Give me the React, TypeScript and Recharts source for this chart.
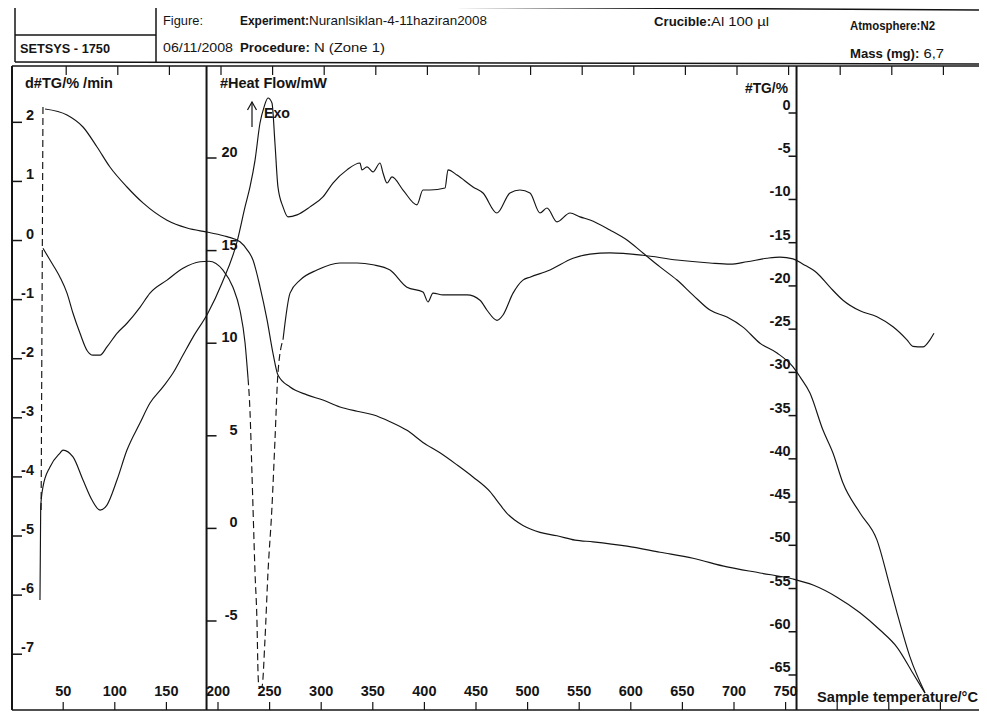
import React from 'react';
import { ComposedChart, Line, XAxis, YAxis, Scatter, ReferenceLine } from 'recharts';

// ---- values (sample temperature in °C) ----
const tgTemp = [32.4, 53.7, 69.2, 82.8, 95.3, 111.8, 127.3, 150.6, 170, 190.3, 208.7, 221.3, 228.1, 233.9, 240.7, 247.5, 253.3, 258.1, 269.8, 286.2, 301.7, 318.2, 334.7, 350.2, 366.7, 383.1, 398.6, 415.1, 431.6, 447.1, 463.6, 473.3, 480, 487.8, 495.5, 512, 528.5, 546, 563.4, 596.3, 628.3, 660.3, 693.2, 725.2, 757.2, 776.6, 799.8, 822.1, 841.5, 858, 873.4, 885.1];
const tgPercent = [0.46, -0.23, -1.62, -3.93, -6.25, -8.56, -10.4, -12.4, -13.3, -13.8, -14.3, -14.9, -15.8, -17.0, -20.1, -23.9, -27.8, -30.3, -31.7, -32.6, -33.2, -34.0, -34.5, -34.9, -35.7, -36.7, -38.1, -39.3, -40.7, -42.1, -43.8, -45.3, -46.3, -47.1, -47.7, -48.5, -48.9, -49.4, -49.6, -50.1, -50.8, -51.5, -52.5, -53.2, -53.9, -54.6, -56.0, -57.8, -59.8, -61.8, -64.8, -67.1];

const heatTemp = [27.5, 28.2, 30.4, 37.2, 46.9, 49.8, 59.5, 69.2, 77.9, 85.7, 92.4, 102.1, 111.8, 124.4, 134.1, 146.7, 156.4, 166.1, 175.8, 190.3, 203.9, 218.4, 226.2, 231, 235.9, 240.7, 244.6, 248.4, 252.3, 255.2, 258.1, 263, 267.8, 276.6, 289.1, 301.7, 311.4, 325, 337.6, 339.5, 344.4, 350.2, 357, 359.9, 363.8, 368.6, 379.3, 392.8, 398.6, 405.4, 420, 422.9, 431.6, 447.1, 456.8, 470.3, 482.9, 492.6, 502.3, 512, 518.8, 528.5, 541.1, 550.8, 560.5, 579.8, 596.3, 611.8, 628.3, 644.8, 660.3, 676.7, 693.2, 708.7, 725.2, 741.7, 757.2, 764, 773.6, 786.2, 795.9, 805.6, 822.1, 838.5, 851.2, 858, 870.5, 885.1];
const heatFlow = [-3.86, 1.16, 2.24, 3.32, 4.07, 4.23, 3.86, 2.61, 1.53, 0.99, 1.26, 2.61, 4.23, 5.69, 6.77, 7.64, 8.39, 9.36, 10.33, 11.63, 13.25, 15.47, 17.36, 18.44, 19.89, 21.89, 22.75, 23.24, 22.97, 20.8, 18.44, 17.36, 16.82, 16.93, 17.36, 17.9, 18.65, 19.36, 19.73, 19.36, 19.52, 19.25, 19.73, 19.19, 18.65, 18.98, 18.27, 17.47, 18.27, 18.27, 18.38, 19.36, 19.08, 18.44, 18.11, 17.03, 18.11, 18.27, 18.11, 17.03, 17.3, 16.55, 17.03, 16.82, 16.65, 16.11, 15.57, 14.87, 14.12, 13.41, 12.6, 11.79, 11.41, 10.87, 10.0, 9.47, 8.72, 8.18, 7.31, 5.31, 4.07, 2.45, 0.83, -0.62, -3.16, -4.56, -6.94, -8.88];

const dtgTemp = [30.4, 37.2, 46.9, 53.7, 59.5, 66.3, 73.1, 78.9, 85.7, 92.4, 102.1, 111.8, 124.4, 134.1, 150.6, 166.1, 182.6, 191.3, 204.8, 214.5, 221.3, 226.2, 229.1];
const dtgRate = [-0.13, -0.33, -0.62, -0.89, -1.23, -1.57, -1.86, -1.94, -1.94, -1.8, -1.57, -1.4, -1.13, -0.89, -0.67, -0.47, -0.36, -0.35, -0.5, -0.79, -1.18, -1.73, -2.33];
const dtgDipTemp = [229.1, 231, 232.9, 233.9, 235.9, 237.8, 238.8, 239.7, 242.6, 245.5, 248.4, 252.3, 255.2, 258.1, 263];
const dtgDipRate = [-2.33, -2.89, -3.93, -4.51, -5.63, -6.47, -7.32, -7.55, -7.55, -6.76, -5.63, -4.51, -3.38, -2.24, -1.68];
const dtgTailTemp = [263, 269.8, 279.5, 295.9, 318.2, 334.7, 350.2, 366.7, 383.1, 398.6, 403.5, 408.3, 418, 441.3, 453.9, 460.7, 470.3, 476.2, 485.9, 495.5, 502.3, 521.7, 544, 560.5, 579.8, 611.8, 644.8, 676.7, 696.1, 712.6, 732, 744.6, 757.2, 766.9, 780.4, 793, 805.6, 822.1, 838.5, 854.1, 867.6, 873.4, 883.1, 889.9, 893.8];
const dtgTailRate = [-1.68, -0.89, -0.67, -0.5, -0.38, -0.38, -0.41, -0.5, -0.79, -0.87, -1.04, -0.89, -0.92, -0.92, -1.01, -1.18, -1.35, -1.26, -0.89, -0.67, -0.62, -0.5, -0.3, -0.23, -0.21, -0.25, -0.33, -0.38, -0.4, -0.36, -0.3, -0.28, -0.31, -0.4, -0.55, -0.79, -1.01, -1.19, -1.29, -1.46, -1.68, -1.79, -1.8, -1.68, -1.57];
const dtgStartTemp = [30.4, 28.6];
const dtgStartRate = [2.26, -4.56];

const tempTicks = [50, 100, 150, 200, 250, 300, 350, 400, 450, 500, 550, 600, 650, 700, 750, 800, 850, 900];
const lastTempLabel = 750;
const dtgTicks = [2, 1, 0, -1, -2, -3, -4, -5, -6, -7];
const heatTicks = [20, 15, 10, 5, 0, -5];
const tgTicks = [0, -5, -10, -15, -20, -25, -30, -35, -40, -45, -50, -55, -60, -65];

// ---- layout ----
const T_DOMAIN = [0.39, 945.16];
const DTG_DOMAIN = [-7.944, 2.953];
const HF_DOMAIN = [-9.806, 24.968];
const TG_DOMAIN = [-69.05, 5.436];
const HF_AXIS_T = 188.9;
const TG_AXIS_T = 760.6;

const INK = '#141414';
const FONT = 'Arial, "Liberation Sans", sans-serif';
const tickStyle = { fontFamily: FONT, fontSize: 14.5, fontWeight: 700, fill: INK } as const;

const pairs = (xs: number[], ys: number[]) => xs.map((t, i) => ({ t, v: ys[i] }));

const tgData = pairs(tgTemp, tgPercent);
const heatData = pairs(heatTemp, heatFlow);
const dtgData = pairs(dtgTemp, dtgRate);
const dtgDipData = pairs(dtgDipTemp, dtgDipRate);
const dtgTailData = pairs(dtgTailTemp, dtgTailRate);
const dtgStartData = pairs(dtgStartTemp, dtgStartRate);
const heatTickData = heatTicks.map(v => ({ t: HF_AXIS_T, v }));
const tgTickData = tgTicks.map(v => ({ t: TG_AXIS_T, v }));

// plot frame edges (page pixels)
const PLOT_TOP = 66;
const PLOT_BOTTOM = 710;
const PLOT_LEFT = 12;

const BottomTick = (props: any) => {
    const { x, payload } = props;
    const y = PLOT_BOTTOM;
    return (
        <g>
            <line x1={x} x2={x} y1={y} y2={y - 8} stroke={INK} strokeWidth={1.2} />
            {payload.value <= lastTempLabel && (
                <text x={x} y={y - 14} textAnchor="middle" style={tickStyle}>{payload.value}</text>
            )}
        </g>
    );
};

const TopTick = (props: any) => {
    const { x } = props;
    const y = PLOT_TOP;
    return <line x1={x + 3} x2={x + 3} y1={y} y2={y + 9} stroke={INK} strokeWidth={1.2} />;
};

const DtgTick = (props: any) => {
    const { y, payload } = props;
    const x = PLOT_LEFT;
    return (
        <g>
            <line x1={x} x2={x + 10} y1={y} y2={y} stroke={INK} strokeWidth={1.5} />
            <text x={x + 22} y={y - 2} textAnchor="end" style={tickStyle}>{payload.value}</text>
        </g>
    );
};

const HeatTick = (props: any) => {
    const { cx, cy, payload } = props;
    return (
        <g>
            <line x1={cx} x2={cx + 10} y1={cy} y2={cy} stroke={INK} strokeWidth={1.5} />
            <text x={cx + 31} y={cy - 1} textAnchor="end" style={tickStyle}>{payload.v}</text>
        </g>
    );
};

const TgTick = (props: any) => {
    const { cx, cy, payload } = props;
    return (
        <g>
            <line x1={cx - 8} x2={cx} y1={cy} y2={cy} stroke={INK} strokeWidth={1.5} />
            <text x={cx - 6} y={cy - 3} textAnchor="end" style={tickStyle}>{payload.v}</text>
        </g>
    );
};

function Header() {
    const base = { fontFamily: FONT, fontSize: 13.5, fill: INK } as const;
    const title = { fontFamily: FONT, fontSize: 14.5, fontWeight: 700, fill: INK } as const;
    const b = { fontWeight: 700, fontSize: 12 } as const;
    return (
        <svg width={987} height={717} style={{ position: 'absolute', left: 0, top: 0, pointerEvents: 'none' }}>
            <g stroke={INK} strokeWidth={1.5} fill="none">
                <line x1={15} y1={5} x2={987} y2={10} />
                <line x1={15} y1={62} x2={987} y2={64} />
                <line x1={15} y1={5} x2={15} y2={62} />
                <line x1={156} y1={5} x2={156} y2={63} />
                <line x1={15} y1={35} x2={156} y2={35} />
            </g>
            <text x={20} y={53} style={{ ...base, fontWeight: 700 }} textLength={90} lengthAdjust="spacingAndGlyphs">SETSYS - 1750</text>
            <text x={163} y={25} style={base} textLength={40} lengthAdjust="spacingAndGlyphs">Figure:</text>
            <text x={240} y={25} style={base} textLength={247} lengthAdjust="spacingAndGlyphs">
                <tspan style={b}>Experiment:</tspan>Nuranlsiklan-4-11haziran2008
            </text>
            <text x={163} y={52} style={base} textLength={70} lengthAdjust="spacingAndGlyphs">06/11/2008</text>
            <text x={240} y={52} style={base} textLength={145} lengthAdjust="spacingAndGlyphs">
                <tspan style={b}>Procedure:</tspan> N (Zone 1)
            </text>
            <text x={654} y={26} style={base} textLength={115} lengthAdjust="spacingAndGlyphs">
                <tspan style={b}>Crucible:</tspan>Al 100 µl
            </text>
            <text x={850} y={30} style={{ ...base, fontWeight: 700, fontSize: 12.5 }} textLength={85} lengthAdjust="spacingAndGlyphs">Atmosphere:N2</text>
            <text x={850} y={58} style={base} textLength={94} lengthAdjust="spacingAndGlyphs">
                <tspan style={b}>Mass (mg):</tspan>   6,7
            </text>

            <text x={25} y={88} style={title} textLength={88} lengthAdjust="spacingAndGlyphs">d#TG/% /min</text>
            <text x={220} y={88} style={title} textLength={107} lengthAdjust="spacingAndGlyphs">#Heat Flow/mW</text>
            <text x={745} y={93} style={title} textLength={43} lengthAdjust="spacingAndGlyphs">#TG/%</text>
            <text x={264} y={118} style={title} textLength={26} lengthAdjust="spacingAndGlyphs">Exo</text>
            <g stroke={INK} strokeWidth={1.2} fill="none">
                <line x1={252} y1={102} x2={252} y2={127} />
                <polyline points="247.5,110 252,102 256.5,110" />
            </g>
            <text x={817} y={702} style={title} textLength={161} lengthAdjust="spacingAndGlyphs">Sample temperature/°C</text>
        </svg>
    );
}

export default function App() {
    const curve = { stroke: INK, strokeWidth: 1.15, dot: false, isAnimationActive: false, xAxisId: 'b' } as const;
    return (
        <div style={{ position: 'relative', width: 987, height: 717, margin: '-8px 0 0 -8px', background: '#fff' }}>
            <ComposedChart width={987} height={717} margin={{ top: PLOT_TOP - 1, right: 0, bottom: 717 - PLOT_BOTTOM - 1, left: PLOT_LEFT - 1 }}>
                <XAxis xAxisId="b" type="number" dataKey="t" domain={T_DOMAIN} allowDataOverflow ticks={tempTicks} interval={0}
                    height={1} tickSize={0} tickMargin={0} tickLine={false} axisLine={{ stroke: INK, strokeWidth: 1.3 }} tick={BottomTick} />
                <XAxis xAxisId="top" orientation="top" type="number" dataKey="t" domain={T_DOMAIN} allowDataOverflow ticks={tempTicks} interval={0}
                    height={1} tickSize={0} tickMargin={0} tickLine={false} axisLine={{ stroke: INK, strokeWidth: 1.6 }} tick={TopTick} />
                <YAxis yAxisId="dtg" type="number" domain={DTG_DOMAIN} allowDataOverflow ticks={dtgTicks} interval={0}
                    width={1} tickSize={0} tickMargin={0} tickLine={false} axisLine={{ stroke: INK, strokeWidth: 2 }} tick={DtgTick} />
                <YAxis yAxisId="hf" type="number" domain={HF_DOMAIN} allowDataOverflow hide width={0} />
                <YAxis yAxisId="tg" type="number" domain={TG_DOMAIN} allowDataOverflow hide width={0} />

                <ReferenceLine xAxisId="b" yAxisId="hf" x={HF_AXIS_T} stroke={INK} strokeWidth={2} />
                <ReferenceLine xAxisId="b" yAxisId="tg" x={TG_AXIS_T} stroke={INK} strokeWidth={2} />
                <Scatter xAxisId="b" yAxisId="hf" data={heatTickData} dataKey="v" shape={HeatTick} isAnimationActive={false} />
                <Scatter xAxisId="b" yAxisId="tg" data={tgTickData} dataKey="v" shape={TgTick} isAnimationActive={false} />

                <Line {...curve} yAxisId="tg" type="monotone" data={tgData} dataKey="v" />
                <Line {...curve} yAxisId="hf" type="monotone" data={heatData} dataKey="v" />
                <Line {...curve} yAxisId="dtg" type="monotone" data={dtgData} dataKey="v" />
                <Line {...curve} yAxisId="dtg" type="monotone" data={dtgDipData} dataKey="v" strokeDasharray="7 4" />
                <Line {...curve} yAxisId="dtg" type="monotone" data={dtgTailData} dataKey="v" />
                <Line {...curve} yAxisId="dtg" type="linear" data={dtgStartData} dataKey="v" strokeDasharray="7 4" />
            </ComposedChart>
            <Header />
        </div>
    );
}
